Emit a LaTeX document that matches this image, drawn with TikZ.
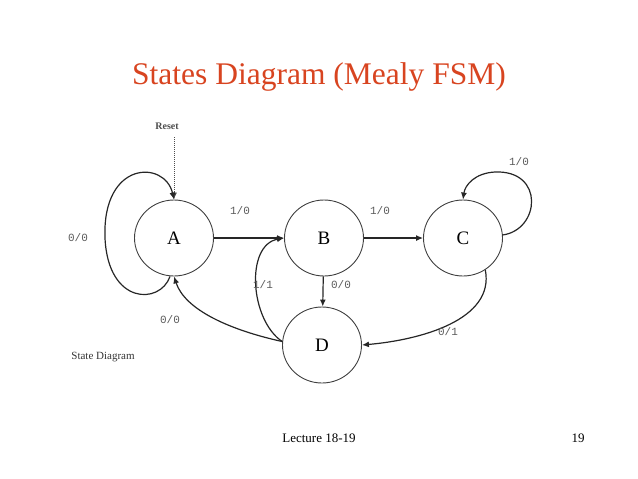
\documentclass[tikz,border=0pt]{standalone}
\usepackage{fontspec}
\setmainfont{Liberation Serif}
\newfontfamily\labmono{Liberation Mono}
\usetikzlibrary{shapes.geometric,arrows.meta}
\definecolor{titlecol}{RGB}{216,68,32}
\definecolor{labgray}{RGB}{90,90,90}
\begin{document}
\begin{tikzpicture}[x=1pt,y=-1pt,
  state/.style={draw=black!75,line width=0.9pt,ellipse,minimum width=79pt,minimum height=76pt,inner sep=0pt,font=\fontsize{19}{21}\selectfont},
  trans/.style={draw=black!85,line width=1.2pt,-{Latex[length=7pt,width=6pt]}},
  lab/.style={font=\labmono\fontsize{11}{12}\selectfont,text=labgray,inner sep=1pt}]
\useasboundingbox (0,0) rectangle (638,479);
\node[font=\fontsize{31.5}{34}\selectfont,text=titlecol] (title) at (319,77) {States Diagram (Mealy FSM)};
\node[state] (A) at (174,238) {A};
\node[state] (B) at (324,238) {B};
\node[state] (C) at (463,238) {C};
\node[state] (D) at (322,345) {D};
\node[font=\fontsize{10}{12}\selectfont\bfseries,text=black!70] (reset) at (167,126) {Reset};
\coordinate (rs) at (174,137);
\draw[black!70,line width=1pt,densely dotted,-{Latex[length=7pt,width=6pt]}] (rs) -- (A.north);
\draw[trans] (A) -- (B);
\draw[trans] (B) -- (C);
\draw[trans] (B) -- (D);
\coordinate (aloopl) at (105,238);
\draw[trans] (170,276.5) .. controls (160,305) and (108,305) .. (aloopl)
  .. controls (102,160) and (165,160) .. (A.north);
\coordinate (cloopt) at (495,172);
\draw[trans] (502.5,235) .. controls (540,230) and (545,170) .. (cloopt)
  .. controls (475,173) and (465,185) .. (C.north);
\draw[trans] (D.175) .. controls (250,320) and (245,245) .. (B.west);
\draw[trans] (D.175) .. controls (230,330) and (185,310) .. (A.south);
\draw[trans] (C.-55) .. controls (495,320) and (420,340) .. (D.east);
\node[lab] (l1) at (240,211) {1/0};
\node[lab] (l2) at (380,211) {1/0};
\node[lab] (l3) at (519,162) {1/0};
\node[lab] (l4) at (78,238) {0/0};
\node[lab] (l5) at (341,285) {0/0};
\node[lab] (l6) at (263,285) {1/1};
\node[lab] (l7) at (170,320) {0/0};
\node[lab] (l8) at (448,332) {0/1};
\node[font=\fontsize{11}{12}\selectfont,text=black!80] (sd) at (103,357) {State Diagram};
\node[font=\fontsize{13}{14}\selectfont] (lec) at (319,438) {Lecture 18-19};
\node[font=\fontsize{13}{14}\selectfont] (pg) at (578,438) {19};
\end{tikzpicture}
\end{document}
